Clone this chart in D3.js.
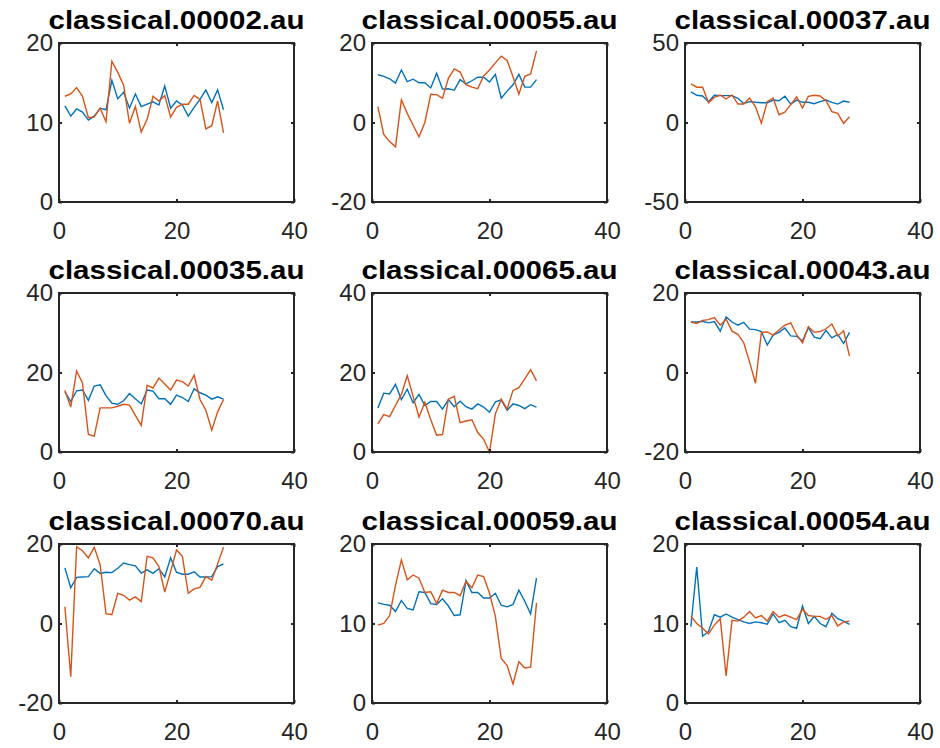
<!DOCTYPE html>
<html>
<head>
<meta charset="utf-8">
<script src="https://cdn.jsdelivr.net/npm/d3@7"></script>
<style>
  body { margin: 0; background: #fff; }
  .tick text { font-family: Arial, "Liberation Sans", sans-serif; font-size: 24px; fill: #262626; }
  .title { font-family: Arial, "Liberation Sans", sans-serif; font-size: 26px; font-weight: bold; fill: #000; }
</style>
</head>
<body>
<div id="my-svg"></div>
<script>
// titles of the nine tracks, in subplot order
var titles = ["classical.00002.au", "classical.00055.au", "classical.00037.au",
    "classical.00035.au", "classical.00065.au", "classical.00043.au",
    "classical.00070.au", "classical.00059.au", "classical.00054.au"];

// y limits of each subplot
var yLimits = [[0, 20], [-20, 20], [-50, 50],
    [0, 40], [0, 40], [-20, 20],
    [-20, 20], [0, 20], [0, 20]];

var xLimits = [0, 40];
var xTicks = [0, 20, 40];

// blue / orange series (28 frames each)
var blue00002 = [12.1, 10.8, 11.7, 11.3, 10.3, 10.8, 11.8, 11.6, 15.3, 13.0, 13.8, 11.8, 13.6, 12.0, 12.3, 12.6, 12.2, 14.6, 11.8, 12.7, 12.2, 10.8, 11.9, 12.9, 14.1, 12.5, 14.1, 11.6];
var orange00002 = [13.3, 13.6, 14.4, 13.3, 10.6, 10.7, 11.8, 10.1, 17.7, 16.3, 14.7, 9.9, 12.0, 8.8, 10.4, 13.3, 12.7, 13.4, 10.7, 11.9, 12.3, 12.3, 13.4, 12.9, 9.2, 9.6, 12.7, 8.7];

var blue00055 = [12.0, 11.6, 11.0, 9.9, 13.2, 10.3, 10.9, 10.0, 10.0, 8.7, 12.4, 8.4, 8.5, 8.1, 10.8, 9.7, 10.5, 11.4, 11.4, 10.2, 12.1, 6.1, 7.9, 9.5, 12.1, 8.9, 8.9, 10.8];
var orange00055 = [4.0, -3.0, -4.8, -6.1, 5.7, 2.3, -0.7, -3.6, 0.0, 7.1, 7.0, 6.1, 11.1, 13.5, 12.7, 9.5, 8.9, 8.5, 11.7, 13.2, 15.0, 16.7, 15.6, 11.5, 7.1, 11.6, 12.2, 18.0];

var blue00037 = [19.2, 17.1, 16.7, 13.1, 17.1, 16.9, 16.9, 16.9, 15.2, 12.0, 13.1, 12.7, 12.4, 12.4, 14.1, 13.7, 16.5, 11.6, 14.1, 12.7, 12.7, 11.8, 13.1, 14.1, 12.7, 11.6, 13.5, 12.7];
var orange00037 = [24.3, 22.2, 22.2, 12.4, 15.8, 17.3, 14.8, 17.3, 11.6, 11.6, 15.4, 9.9, -0.4, 13.1, 15.4, 4.9, 6.5, 11.2, 16.2, 9.1, 16.5, 17.1, 16.7, 13.7, 6.8, 5.7, -0.6, 3.6];

var blue00035 = [15.2, 12.7, 15.4, 15.6, 13.0, 16.6, 16.9, 14.2, 12.3, 12.0, 12.9, 14.7, 13.4, 12.1, 15.6, 15.3, 13.4, 13.4, 12.0, 14.3, 13.7, 12.7, 15.9, 14.9, 14.3, 13.3, 13.9, 13.3];
var orange00035 = [15.5, 11.3, 20.4, 17.4, 4.4, 4.0, 11.1, 11.1, 11.1, 11.5, 12.0, 11.8, 9.2, 6.7, 16.8, 16.1, 18.6, 17.1, 15.6, 18.1, 17.7, 16.6, 19.3, 13.2, 10.5, 5.5, 10.1, 13.2];

var blue00065 = [11.1, 14.8, 14.6, 17.0, 13.2, 15.8, 12.4, 14.5, 11.7, 12.7, 12.7, 10.8, 13.2, 11.4, 12.8, 11.4, 10.8, 12.1, 11.3, 10.0, 12.6, 13.1, 10.5, 12.1, 11.7, 10.9, 11.9, 11.3];
var orange00065 = [7.1, 9.4, 8.9, 11.7, 14.5, 19.2, 14.0, 8.8, 12.5, 8.1, 4.2, 4.4, 13.3, 14.0, 7.4, 7.8, 8.1, 4.9, 3.2, 0.0, 9.6, 13.3, 10.8, 15.5, 16.2, 18.4, 20.7, 17.9];

var blue00043 = [12.7, 12.7, 12.9, 12.5, 12.8, 10.4, 14.0, 12.7, 11.9, 12.6, 10.9, 10.8, 10.3, 6.9, 9.4, 10.1, 11.2, 9.2, 9.1, 7.9, 11.3, 8.9, 8.5, 10.6, 8.7, 9.6, 7.3, 10.1];
var orange00043 = [12.7, 12.3, 13.1, 13.3, 13.8, 11.9, 13.4, 10.4, 9.6, 7.5, 2.6, -2.7, 10.1, 10.2, 9.4, 10.7, 11.9, 12.5, 9.5, 7.5, 11.5, 10.1, 10.3, 11.0, 12.2, 9.2, 10.5, 4.1];

var blue00070 = [14.0, 9.0, 11.6, 11.7, 11.8, 13.8, 12.6, 12.9, 12.8, 13.9, 15.2, 14.8, 14.5, 12.7, 13.5, 12.6, 13.8, 11.7, 16.5, 12.9, 12.4, 12.4, 13.0, 11.7, 11.7, 11.8, 14.3, 15.0];
var orange00070 = [4.2, -13.4, 19.3, 18.3, 16.5, 19.2, 14.8, 2.5, 2.2, 7.6, 7.1, 5.9, 6.7, 5.5, 16.9, 16.5, 14.4, 7.9, 13.1, 18.5, 16.9, 7.6, 8.7, 9.1, 11.8, 10.9, 15.0, 19.2];

var blue00059 = [12.6, 12.4, 12.3, 11.5, 12.9, 11.9, 11.7, 14.0, 13.9, 12.5, 12.4, 13.1, 12.2, 11.0, 11.1, 15.4, 13.9, 13.9, 13.2, 13.2, 13.8, 12.3, 12.1, 12.4, 14.2, 12.8, 11.2, 15.7];
var orange00059 = [9.8, 10.0, 11.0, 14.8, 18.0, 15.5, 16.1, 15.7, 13.9, 14.0, 12.5, 14.2, 13.9, 13.9, 13.5, 15.3, 14.5, 16.1, 15.9, 13.8, 10.9, 5.6, 4.7, 2.4, 5.2, 4.4, 4.5, 12.6];

var blue00054 = [9.6, 17.1, 8.4, 9.0, 11.1, 10.8, 11.2, 10.8, 10.5, 10.2, 10.0, 10.2, 10.1, 9.9, 11.2, 10.1, 10.4, 9.6, 9.4, 12.2, 10.0, 10.9, 10.0, 9.6, 11.3, 10.6, 10.3, 9.9];
var orange00054 = [10.9, 10.0, 9.4, 8.7, 9.8, 10.6, 3.4, 10.4, 10.3, 10.8, 11.5, 10.7, 11.0, 10.3, 11.5, 10.8, 11.1, 10.8, 10.5, 11.8, 11.0, 10.9, 10.9, 10.5, 11.0, 9.7, 10.2, 10.3];

var blueSeries = [blue00002, blue00055, blue00037, blue00035, blue00065, blue00043, blue00070, blue00059, blue00054];
var orangeSeries = [orange00002, orange00055, orange00037, orange00035, orange00065, orange00043, orange00070, orange00059, orange00054];

var width = 940, height = 748;
var colLeft = [59, 372, 685];
var rowTop = [43, 293, 544];
var axW = 235, axH = 159;
var tickLen = 3;
var axisColor = "#262626";

var svg = d3.select("#my-svg")
    .append("svg")
    .attr("width", width)
    .attr("height", height);

// plain hyphen for negatives, like the original figure
function fmt(d) { return String(d); }

function drawPanel(k) {
    var left = colLeft[k % 3], top = rowTop[Math.floor(k / 3)];
    var yDom = yLimits[k];

    var g = svg.append("g")
        .attr("transform", "translate(" + left + "," + top + ")");

    var xScale = d3.scaleLinear().domain(xLimits).range([0, axW]);
    var yScale = d3.scaleLinear().domain(yDom).range([axH, 0]);
    var yTicks = [yDom[0], (yDom[0] + yDom[1]) / 2, yDom[1]];

    // the two series
    var line = d3.line()
        .x(function (d, i) { return xScale(i + 1); })
        .y(function (d) { return yScale(d); });

    g.append("path")
        .datum(blueSeries[k])
        .attr("fill", "none")
        .attr("stroke", "#0072BD")
        .attr("stroke-width", 1.4)
        .attr("d", line);

    g.append("path")
        .datum(orangeSeries[k])
        .attr("fill", "none")
        .attr("stroke", "#D95319")
        .attr("stroke-width", 1.4)
        .attr("d", line);

    // axes with inward ticks on all four sides (box on)
    var bottom = g.append("g")
        .attr("transform", "translate(0," + axH + ")")
        .call(d3.axisBottom(xScale).tickValues(xTicks).tickSizeInner(-tickLen).tickSizeOuter(0).tickFormat(fmt));
    var topAx = g.append("g")
        .call(d3.axisTop(xScale).tickValues(xTicks).tickSizeInner(-tickLen).tickSizeOuter(0).tickFormat(""));
    var leftAx = g.append("g")
        .call(d3.axisLeft(yScale).tickValues(yTicks).tickSizeInner(-tickLen).tickSizeOuter(0).tickPadding(6).tickFormat(fmt));
    var rightAx = g.append("g")
        .attr("transform", "translate(" + axW + ",0)")
        .call(d3.axisRight(yScale).tickValues(yTicks).tickSizeInner(-tickLen).tickSizeOuter(0).tickFormat(""));

    [bottom, topAx, leftAx, rightAx].forEach(function (a) {
        a.select(".domain").remove();
        a.selectAll(".tick line").attr("stroke", axisColor).attr("stroke-width", 2);
    });
    bottom.selectAll(".tick text").attr("dy", "0.71em").attr("y", 20);

    g.append("rect")
        .attr("width", axW)
        .attr("height", axH)
        .attr("fill", "none")
        .attr("stroke", axisColor)
        .attr("stroke-width", 2);

    // title glyphs are a bit wider than Arial bold in the original
    g.append("text")
        .attr("class", "title")
        .attr("x", axW / 2)
        .attr("y", -14.5)
        .attr("text-anchor", "middle")
        .attr("textLength", 256)
        .attr("lengthAdjust", "spacingAndGlyphs")
        .text(titles[k]);
}

for (var k = 0; k < 9; k++) {
    drawPanel(k);
}
</script>
</body>
</html>
